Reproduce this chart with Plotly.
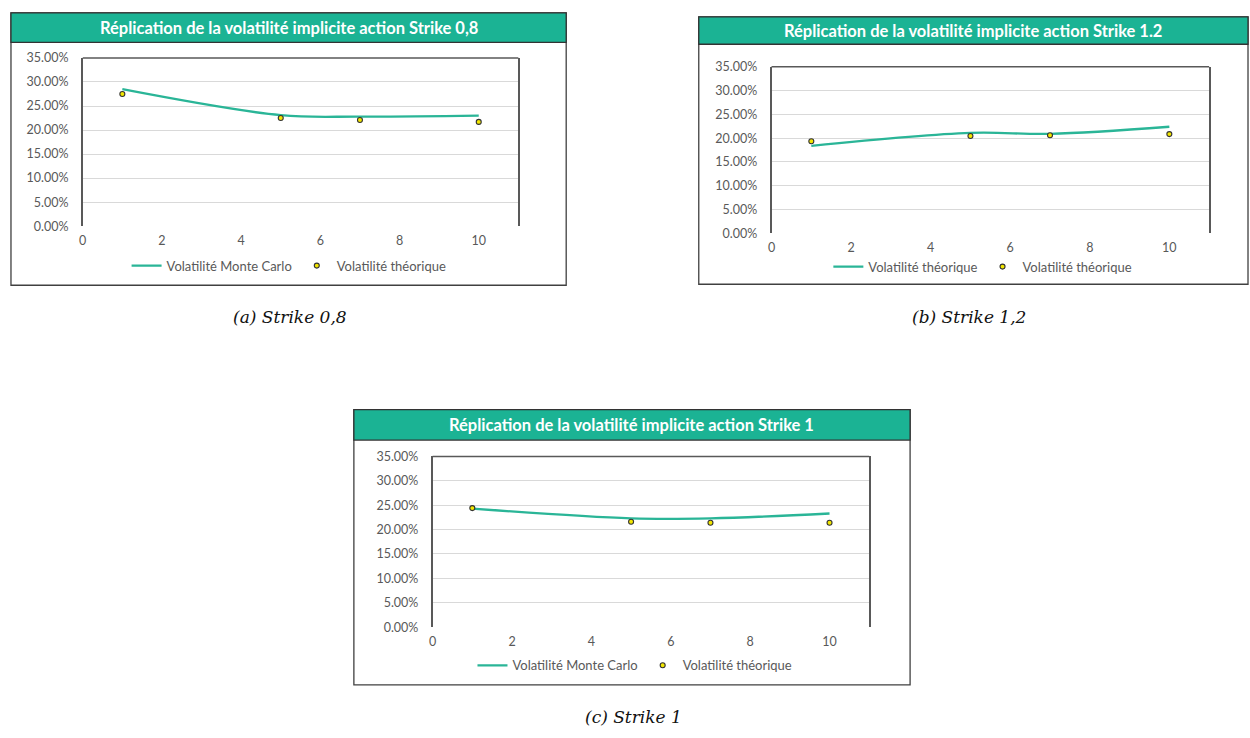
import plotly.graph_objects as go

# Maturities (years)
maturites = [1, 5, 7, 10]

# Strike 0,8
mc_k08 = [0.285, 0.231, 0.228, 0.230]
th_k08 = [0.275, 0.225, 0.221, 0.217]

# Strike 1,2
mc_k12 = [0.184, 0.211, 0.209, 0.224]
th_k12 = [0.1935, 0.2045, 0.206, 0.2085]

# Strike 1
mc_k10 = [0.243, 0.223, 0.223, 0.233]
th_k10 = [0.244, 0.216, 0.214, 0.214]

titres = [
    "Réplication de la volatilité implicite action Strike 0,8",
    "Réplication de la volatilité implicite action Strike 1.2",
    "Réplication de la volatilité implicite action Strike 1",
]
noms_mc = ["Volatilité Monte Carlo", "Volatilité théorique", "Volatilité Monte Carlo"]
nom_th = "Volatilité théorique"
legendes = ["(a) Strike 0,8", "(b) Strike 1,2", "(c) Strike 1"]

W, H = 1250, 738
VERT = "#1BB394"
LIGNE = "#2AB597"
GRIS_TXT = "#595959"
FONT = "Lato, Open Sans, sans-serif"


def px(x):
    return x / W


def py(y):
    return 1 - y / H


# Panel geometry in pixels: outer box, title bar bottom, plot area, legend centre, caption
panneaux = [
    dict(box=(7, 5, 564, 283), tb=35, plot=(79, 51, 516, 222.7), leg=(286, 263), cap=(287, 315)),
    dict(box=(697, 9, 1248, 282), tb=37, plot=(770, 60, 1209, 230), leg=(982, 264), cap=(968, 315)),
    dict(box=(351, 410, 909, 691), tb=441, plot=(430, 457.7, 868, 632), leg=(633, 671), cap=(632, 724)),
]
series = [(mc_k08, th_k08), (mc_k12, th_k12), (mc_k10, th_k10)]

fig = go.Figure()
shapes = []
annotations = []
layout = {}

for i, (p, (mc, th)) in enumerate(zip(panneaux, series)):
    n = "" if i == 0 else str(i + 1)
    xa, ya = "x" + n, "y" + n
    leg = "legend" + n
    bx0, by0, bx1, by1 = p["box"]
    x0, y0, x1, y1 = p["plot"]

    fig.add_trace(go.Scatter(
        x=maturites, y=mc, mode="lines", name=noms_mc[i],
        line=dict(color=LIGNE, width=2.3, shape="spline", smoothing=1.0),
        xaxis=xa, yaxis=ya, legend=leg,
    ))
    fig.add_trace(go.Scatter(
        x=maturites, y=th, mode="markers", name=nom_th,
        marker=dict(color="#F2E600", size=5, line=dict(color="#333333", width=1.1)),
        xaxis=xa, yaxis=ya, legend=leg,
    ))

    layout["xaxis" + n] = dict(
        domain=[px(x0), px(x1)], anchor=ya, range=[0, 11], dtick=2, tick0=0,
        showgrid=False, zeroline=False, showline=False, ticks="",
        tickfont=dict(family=FONT, size=12.5, color=GRIS_TXT), ticklabelstandoff=5,
    )
    layout["yaxis" + n] = dict(
        domain=[py(y1), py(y0)], anchor=xa, range=[0, 0.35], dtick=0.05, tick0=0,
        tickformat=".2%", showgrid=True, gridcolor="#D9D9D9", gridwidth=1,
        zeroline=False, showline=True, mirror=True, linecolor=GRIS_TXT, linewidth=1.5,
        ticks="", tickfont=dict(family=FONT, size=12.5, color=GRIS_TXT), ticklabelstandoff=10,
    )
    layout[leg] = dict(
        orientation="h", x=px(p["leg"][0]), y=py(p["leg"][1]),
        xanchor="center", yanchor="middle", bgcolor="rgba(0,0,0,0)",
        font=dict(family=FONT, size=13, color=GRIS_TXT),
        itemwidth=30, tracegroupgap=0,
    )

    # outer frame, green title bar
    shapes.append(dict(type="rect", xref="paper", yref="paper",
                       x0=px(bx0), x1=px(bx1), y0=py(by1), y1=py(by0),
                       line=dict(color="#404040", width=1.3), fillcolor="white", layer="below"))
    shapes.append(dict(type="rect", xref="paper", yref="paper",
                       x0=px(bx0), x1=px(bx1), y0=py(p["tb"]), y1=py(by0),
                       line=dict(color="#333333", width=1.3), fillcolor=VERT, layer="below"))
    # top border of the plot area
    shapes.append(dict(type="line", xref=xa + " domain", yref=ya + " domain",
                       x0=0, x1=1, y0=1, y1=1, line=dict(color=GRIS_TXT, width=1.5)))

    annotations.append(dict(
        text="<b>" + titres[i] + "</b>", xref="paper", yref="paper",
        x=px((bx0 + bx1) / 2), y=py((by0 + p["tb"]) / 2), xanchor="center", yanchor="middle",
        showarrow=False, font=dict(family=FONT, size=16.5, color="white"),
    ))
    annotations.append(dict(
        text="<i>" + legendes[i] + "</i>", xref="paper", yref="paper",
        x=px(p["cap"][0]), y=py(p["cap"][1]), xanchor="center", yanchor="middle",
        showarrow=False, font=dict(family="DejaVu Serif, serif", size=17, color="#111111"),
    ))

fig.update_layout(
    width=W, height=H, margin=dict(l=0, r=0, t=0, b=0),
    paper_bgcolor="white", plot_bgcolor="rgba(0,0,0,0)",
    shapes=shapes, annotations=annotations, **layout,
)

# page without body margin so the figure sits at the window origin
fig.write_html("out.html", post_script="document.body.style.margin='0';")
